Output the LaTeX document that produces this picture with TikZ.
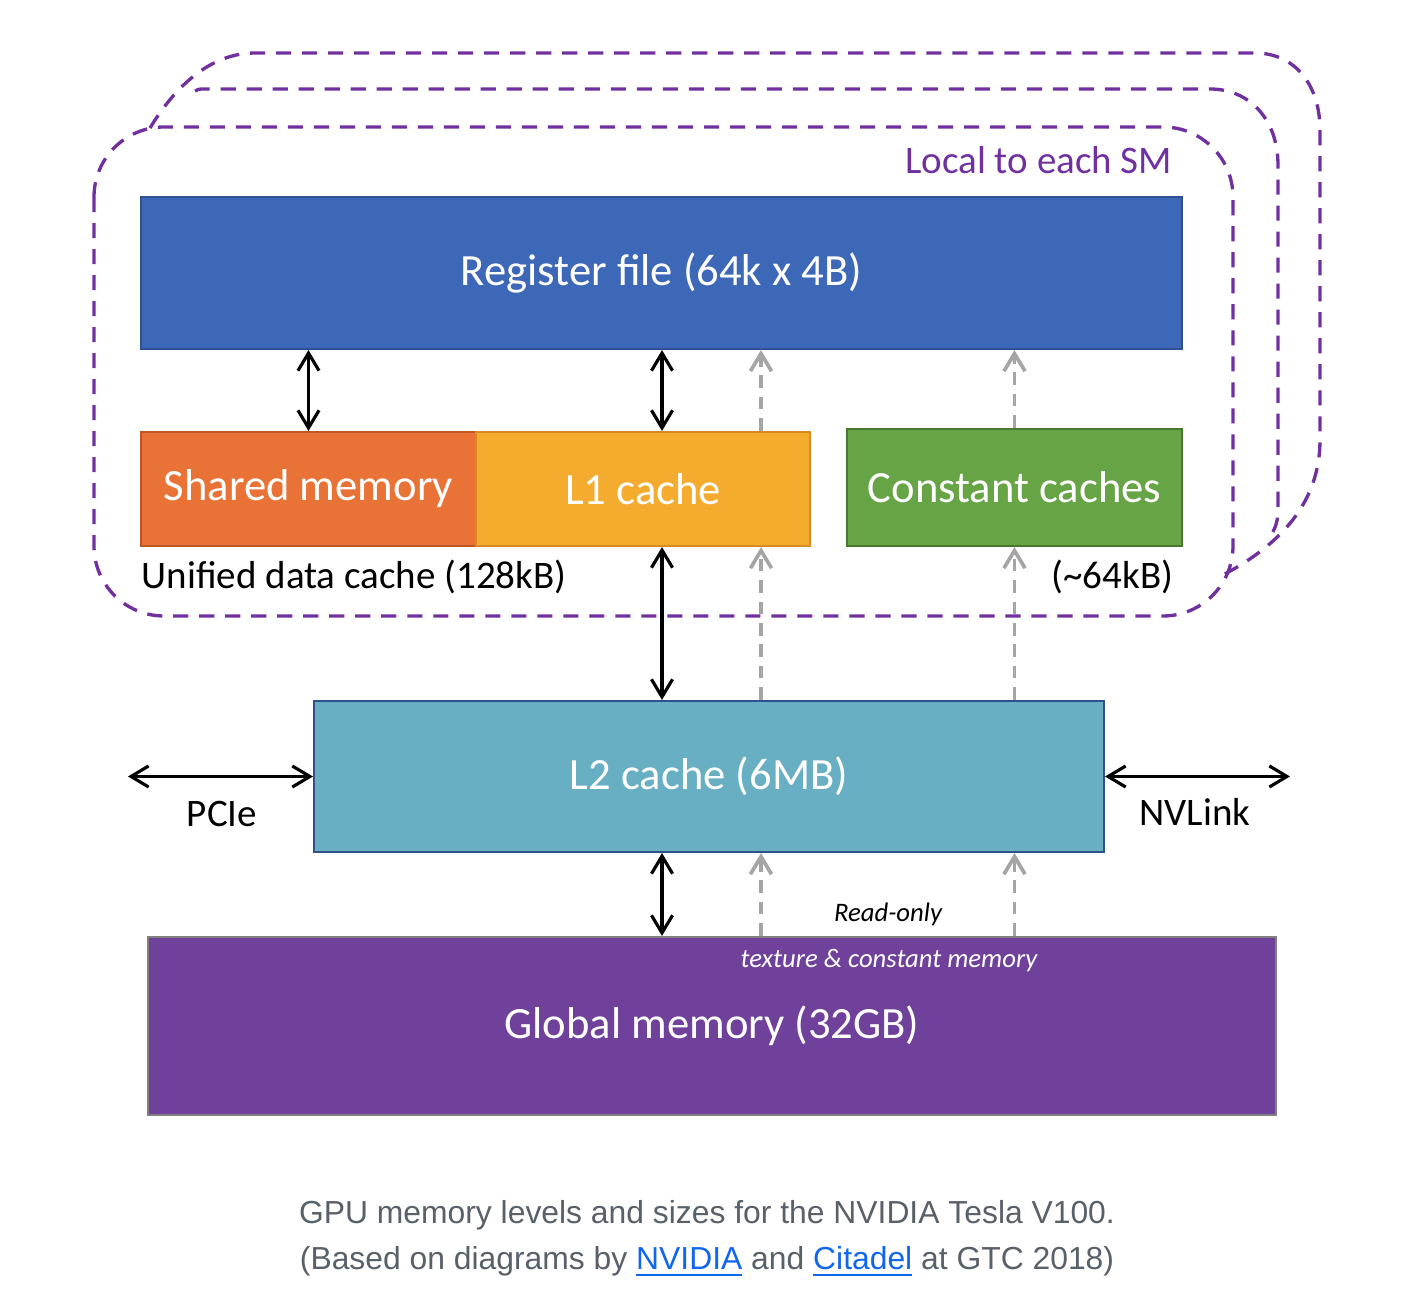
\documentclass[tikz,border=0pt]{standalone}
\usepackage{fontspec}
\setmainfont{Carlito}
\newfontfamily\captionfont{Liberation Sans}
\usepackage{xcolor}
\definecolor{reg_blue}{RGB}{61,103,183}
\definecolor{reg_edge}{RGB}{47,82,143}
\definecolor{shared_orange}{RGB}{233,115,55}
\definecolor{shared_edge}{RGB}{190,85,35}
\definecolor{l1_yellow}{RGB}{245,171,45}
\definecolor{l1_edge}{RGB}{214,140,30}
\definecolor{const_green}{RGB}{102,164,69}
\definecolor{const_edge}{RGB}{72,120,48}
\definecolor{l2_cyan}{RGB}{104,175,196}
\definecolor{global_purple}{RGB}{111,65,154}
\definecolor{global_edge}{RGB}{128,128,128}
\definecolor{sm_purple}{RGB}{112,48,160}
\definecolor{ro_gray}{RGB}{165,165,165}
\definecolor{caption_gray}{RGB}{88,96,105}
\definecolor{link_blue}{RGB}{17,102,238}
\usepackage{tikz}
\usetikzlibrary{arrows.meta}

\tikzset{
  memblock/.style={draw, line width=0.6pt, inner sep=0pt, text=white, font=\fontsize{12.7}{15}\selectfont},
  sidetext/.style={inner sep=0pt, font=\fontsize{11.1}{13}\selectfont},
  smborder/.style={draw=sm_purple, line width=0.95pt, dash pattern=on 4.3pt off 3.1pt},
  biarrow/.style={line width=0.9pt, {Straight Barb[length=5pt,width=6pt]}-{Straight Barb[length=5pt,width=6pt]}},
  roarrow/.style={draw=ro_gray, line width=1.05pt, dash pattern=on 3.6pt off 2.5pt, -{Straight Barb[length=5pt,width=6pt]}}
}

\begin{document}
\begin{tikzpicture}
\useasboundingbox (0,0) rectangle (14.1,-13.11);

% outlines of the SMs
\draw[smborder] (1.50,-1.28) .. controls (1.70,-0.95) and (2.05,-0.53) .. (2.55,-0.53) -- (12.55,-0.53) .. controls (12.95,-0.53) and (13.20,-0.85) .. (13.20,-1.30) -- (13.20,-4.40) .. controls (13.20,-5.10) and (12.70,-5.50) .. (12.23,-5.75);
\draw[smborder] (1.95,-0.91) .. controls (1.99,-0.89) .. (2.05,-0.89) -- (12.10,-0.89) .. controls (12.50,-0.89) and (12.78,-1.20) .. (12.78,-1.65) -- (12.78,-5.10) .. controls (12.78,-5.25) and (12.73,-5.33) .. (12.67,-5.40);
\draw[smborder, rounded corners=0.7cm] (0.94,-1.27) rectangle (12.33,-6.16);
\node[sidetext, text=sm_purple, anchor=east] (smlabel) at (11.73,-1.60) {Local to each SM};

% memory blocks
\node[memblock, fill=reg_blue, draw=reg_edge, minimum width=10.41cm, minimum height=1.52cm] (reg) at (6.615,-2.73) {Register file (64k x 4B)};
\node[memblock, fill=shared_orange, draw=shared_edge, minimum width=3.35cm, minimum height=1.14cm] (shared) at (3.085,-4.89) {Shared memory};
\node[memblock, fill=l1_yellow, draw=l1_edge, minimum width=3.34cm, minimum height=1.14cm] (l1) at (6.43,-4.89) {L1 cache};
\node[memblock, fill=const_green, draw=const_edge, minimum width=3.35cm, minimum height=1.17cm] (const) at (10.145,-4.875) {Constant caches};
\node[memblock, fill=l2_cyan, draw=reg_edge, minimum width=7.90cm, minimum height=1.51cm] (l2) at (7.09,-7.765) {L2 cache (6MB)};
\node[memblock, fill=global_purple, draw=global_edge, minimum width=11.28cm, minimum height=1.78cm] (global) at (7.12,-10.26) {Global memory (32GB)};

\node[sidetext, anchor=west] (unified) at (1.41,-5.77) {Unified data cache (128kB)};
\node[sidetext, anchor=east] (constsize) at (11.74,-5.77) {(\textasciitilde 64kB)};
\node[sidetext] (pcie) at (2.22,-8.14) {PCIe};
\node[sidetext] (nvlink) at (11.95,-8.12) {NVLink};
\node[font=\fontsize{7.6}{9}\selectfont\itshape] (readonly) at (8.88,-9.14) {Read-only};
\node[font=\fontsize{7.6}{9}\selectfont\itshape, text=white] (texmem) at (8.89,-9.61) {texture \& constant memory};

% connectors
\coordinate (bus) at (6.62,0);
\coordinate (ro) at (7.61,0);
\coordinate (pcieend) at (1.28,-7.765);
\coordinate (nvlinkend) at (12.90,-7.765);
\draw[biarrow] (shared.north) -- (reg.south -| shared.north);
\draw[biarrow] (l1.north -| bus) -- (reg.south -| bus);
\draw[biarrow] (l1.south -| bus) -- (l2.north -| bus);
\draw[biarrow] (l2.south -| bus) -- (global.north -| bus);
\draw[biarrow] (pcieend) -- (l2.west);
\draw[biarrow] (l2.east) -- (nvlinkend);

\draw[roarrow] (l1.north -| ro) -- (reg.south -| ro);
\draw[roarrow] (const.north) -- (reg.south -| const.north);
\draw[roarrow] (l2.north -| ro) -- (l1.south -| ro);
\draw[roarrow] (l2.north -| const.north) -- (const.south);
\draw[roarrow] (global.north -| ro) -- (l2.south -| ro);
\draw[roarrow] (global.north -| const.north) -- (l2.south -| const.north);

% caption
\node[font=\captionfont\fontsize{9.06}{13.1}\selectfont, text=caption_gray, align=center] (caption) at (7.07,-12.39) {GPU memory levels and sizes for the NVIDIA Tesla V100.\\(Based on diagrams by \textcolor{link_blue}{\underline{NVIDIA}} and \textcolor{link_blue}{\underline{Citadel}} at GTC 2018)};
\end{tikzpicture}
\end{document}
